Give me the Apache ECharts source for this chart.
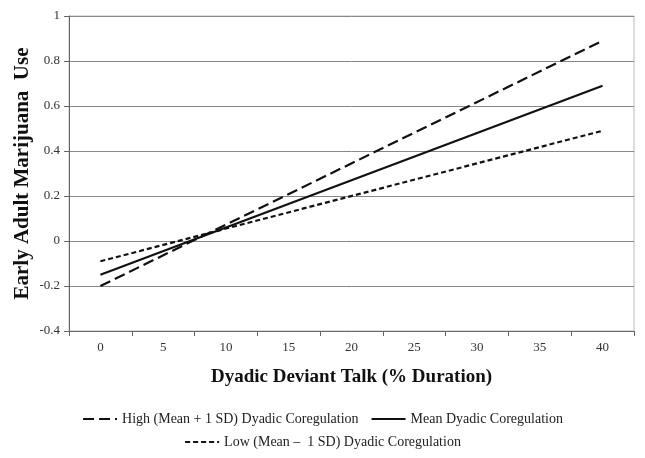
<!DOCTYPE html>
<html><head><meta charset="utf-8">
<script src="https://cdn.jsdelivr.net/npm/echarts@6/dist/echarts.min.js"></script>
<style>html,body{margin:0;padding:0;background:#fff}#c{width:645px;height:458px}</style>
</head><body><div id="c"></div>
<script>
const categories = ['0','5','10','15','20','25','30','35','40'];
const highValues = [-0.2, null, null, null, null, null, null, null, 0.89];
const meanValues = [-0.15, null, null, null, null, null, null, null, 0.69];
const lowValues  = [-0.09, null, null, null, null, null, null, null, 0.49];
const names = ['High (Mean + 1 SD) Dyadic Coregulation','Mean Dyadic Coregulation','Low (Mean \u2013  1 SD) Dyadic Coregulation'];
const font = '"Liberation Serif", "Times New Roman", serif';
const chart = echarts.init(document.getElementById('c'));
function ser(name, data, type){
  return {name, type:'line', data, connectNulls:true, symbol:'none', showSymbol:false,
    lineStyle:{color:'#111', width:2.2, type}, itemStyle:{color:'#111'}, animation:false};
}
chart.setOption({
  animation:false,
  textStyle:{fontFamily:font},
  grid:{left:69, right:11, top:16, bottom:127, show:true, borderColor:'#bbb', borderWidth:1},
  xAxis:{type:'category', data:categories, boundaryGap:true,
    axisLine:{onZero:false, lineStyle:{color:'#666'}}, axisTick:{show:true, length:5, lineStyle:{color:'#666'}},
    axisLabel:{color:'#333', fontSize:13, fontFamily:font, margin:10},
    name:'Dyadic Deviant Talk (% Duration)', nameLocation:'middle', nameGap:37,
    nameTextStyle:{fontSize:19, fontWeight:'bold', color:'#111', fontFamily:font}},
  yAxis:{type:'value', min:-0.4, max:1, interval:0.2,
    axisLine:{show:true, lineStyle:{color:'#666'}}, axisTick:{show:true, length:5, lineStyle:{color:'#666'}},
    splitLine:{lineStyle:{color:'#888', width:1}},
    axisLabel:{color:'#333', fontSize:13, fontFamily:font, margin:9, formatter:v=>String(Math.round(v*10)/10)},
    name:'Early Adult Marijuana  Use', nameLocation:'middle', nameGap:36, nameMoveOverlap:false,
    nameTextStyle:{fontSize:21, fontWeight:'bold', color:'#111', fontFamily:font}},
  legend:[
    {data:[names[0], names[1]], top:407, left:'center', itemWidth:34, itemHeight:10, itemGap:12,
      itemStyle:{opacity:0}, textStyle:{fontSize:14, color:'#222', fontFamily:font}},
    {data:[names[2]], top:430, left:'center', itemWidth:34, itemHeight:10,
      itemStyle:{opacity:0}, textStyle:{fontSize:14, color:'#222', fontFamily:font}}
  ],
  series:[ser(names[0], highValues, [11,5]), ser(names[1], meanValues, 'solid'), ser(names[2], lowValues, [5,3])]
});
</script></body></html>
